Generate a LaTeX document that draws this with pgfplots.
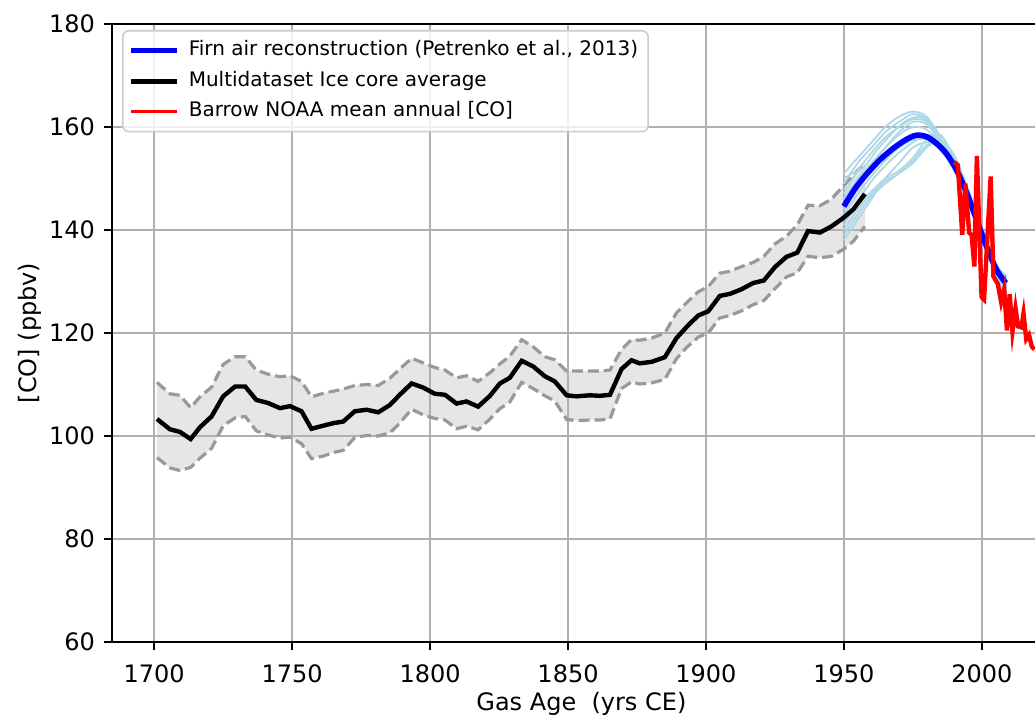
\documentclass[border=0pt]{standalone}
\usepackage{pgfplots}
\pgfplotsset{compat=1.18}
\usepgfplotslibrary{fillbetween}
\usepackage{fontspec}
\setmainfont{DejaVu Sans}
\definecolor{bandfill}{RGB}{230,230,230}
\definecolor{banddash}{RGB}{153,153,153}
\definecolor{gridc}{RGB}{176,176,176}
\definecolor{lblue}{RGB}{173,216,230}
\definecolor{legedge}{RGB}{204,204,204}

\pgfplotstableread{
x y
1701 103.3
1705.7 101.3
1709.3 100.8
1713.2 99.4
1716.6 101.7
1720.8 103.8
1725 107.7
1729.3 109.6
1733 109.6
1737 107.0
1741.3 106.4
1745.6 105.4
1749.2 105.8
1753.4 104.8
1757 101.4
1761.3 102.0
1765 102.5
1768.5 102.8
1772.7 104.8
1777 105.1
1781.2 104.6
1785.4 106.0
1789 108.0
1793.3 110.2
1797.5 109.4
1801.7 108.2
1805.4 108.0
1809.6 106.3
1813.2 106.7
1817.4 105.7
1821.7 107.8
1825.3 110.2
1828.9 111.3
1833.2 114.6
1837.4 113.5
1841.6 111.6
1845.2 110.6
1849.5 107.9
1853.1 107.7
1857.9 107.9
1861.5 107.8
1865.2 108.0
1869.4 113.0
1873 114.7
1876 114.1
1880.3 114.4
1885.1 115.3
1889.3 119.0
1893.2 121.3
1897.2 123.4
1900.8 124.2
1905 127.2
1908.7 127.6
1912.9 128.5
1917.1 129.7
1921 130.2
1925 132.8
1929.2 134.8
1933.1 135.6
1937 139.8
1941.3 139.5
1945.5 140.7
1949.7 142.3
1953.4 144.0
1957.6 147.0
}\meanT

\pgfplotstableread{
x y
1701 110.4
1705.7 108.2
1709.3 107.9
1713.2 105.5
1716.6 107.6
1720.8 109.5
1725 113.9
1729.3 115.4
1733 115.4
1737 112.8
1741.3 112.0
1745.6 111.5
1749.2 111.7
1753.4 110.6
1757 107.6
1761.3 108.3
1765 108.7
1768.5 109.1
1772.7 109.8
1777 110.0
1781.2 109.8
1785.4 111.2
1789 113.0
1793.3 115.1
1797.5 114.2
1801.7 113.3
1805.4 112.8
1809.6 111.3
1813.2 111.7
1817.4 110.6
1821.7 112.3
1825.3 114.0
1828.9 115.5
1833.2 118.7
1837.4 117.3
1841.6 115.4
1845.2 114.8
1849.5 112.6
1853.1 112.6
1857.9 112.6
1861.5 112.6
1865.2 112.8
1869.4 116.8
1873 118.7
1876 118.6
1880.3 119.0
1885.1 120.0
1889.3 123.9
1893.2 126.0
1897.2 128.0
1900.8 129.0
1905 131.6
1908.7 132.0
1912.9 132.9
1917.1 133.7
1921 134.9
1925 137.3
1929.2 138.8
1933.1 141.0
1937 144.8
1941.3 144.7
1945.5 146.0
1949.7 148.5
1953.4 150.7
1957.6 153.0
}\upperT

\pgfplotstableread{
x y
1701 95.8
1705.7 93.8
1709.3 93.3
1713.2 93.9
1716.6 95.7
1720.8 97.6
1725 102.0
1729.3 103.5
1733 103.8
1737 101.0
1741.3 100.2
1745.6 99.6
1749.2 99.8
1753.4 98.5
1757 95.6
1761.3 96.1
1765 96.8
1768.5 97.2
1772.7 99.7
1777 100.1
1781.2 100.0
1785.4 100.6
1789 102.5
1793.3 105.2
1797.5 104.1
1801.7 103.4
1805.4 103.1
1809.6 101.4
1813.2 101.9
1817.4 101.2
1821.7 103.3
1825.3 105.3
1828.9 106.6
1833.2 110.4
1837.4 109.2
1841.6 107.8
1845.2 106.8
1849.5 103.2
1853.1 103.0
1857.9 103.1
1861.5 103.1
1865.2 103.3
1869.4 109.2
1873 110.5
1876 110.1
1880.3 110.3
1885.1 111.0
1889.3 115.0
1893.2 117.3
1897.2 119.2
1900.8 120.0
1905 122.9
1908.7 123.4
1912.9 124.3
1917.1 125.5
1921 126.3
1925 128.6
1929.2 130.9
1933.1 131.7
1937 134.9
1941.3 134.6
1945.5 134.9
1949.7 136.2
1953.4 137.8
1957.6 140.7
}\lowerT

\pgfplotstableread{
x y
1950 144.6
1954 148.0
1958 150.7
1963 153.6
1968 155.9
1972.7 157.6
1976.3 158.4
1980 158.1
1983.6 156.8
1987.2 154.8
1990.8 151.7
1994.5 147.2
1998.1 142.0
2001.7 136.8
2005.3 132.3
2008.7 129.7
}\firnT

\pgfplotstableread{
x y
1989.9 153.2
1991.3 152.6
1992.9 139.1
1994.0 149.0
1995.4 139.5
1996.3 139.0
1997.3 132.9
1998.2 154.4
1999.9 127.0
2000.8 126.5
2003.2 150.4
2004.2 131.0
2005.8 129.5
2007.0 126.0
2008.1 128.5
2009.1 120.5
2010.1 127.5
2011.1 120.3
2012.2 124.8
2013.1 121.3
2014.3 121.1
2015.1 123.8
2016.1 118.8
2017.1 119.6
2018.1 117.4
2019.0 116.8
}\noaaT

\begin{document}
\begin{tikzpicture}
\begin{axis}[
  set layers,
  scale only axis, width=469.4pt, height=309pt,
  xmin=1684.7, xmax=2025, ymin=60, ymax=180,
  xtick={1700,1750,...,2000}, ytick={60,80,...,180},
  /pgf/number format/assume math mode=true,
  /pgf/number format/1000 sep={},
  tick label style={font=\fontsize{12}{14}\selectfont},
  label style={font=\fontsize{12}{14}\selectfont},
  tick align=outside, tick pos=left,
  major tick length=3.8pt,
  every tick/.style={black, line width=0.8pt},
  axis line style={line width=0.8pt},
  grid=major, major grid style={gridc, line width=1pt},
  xticklabel style={anchor=north, inner sep=0pt, yshift=-7.5pt},
  yticklabel style={anchor=east, inner sep=0pt, xshift=-4.5pt},
  xlabel={Gas Age\ \ (yrs CE)}, ylabel={[CO] (ppbv)},
  xlabel style={at={(axis description cs:0.5,0)}, anchor=base, yshift=-34.5pt},
  ylabel style={at={(axis description cs:-0.088,0.5)}, anchor=center},
  legend image code/.code={\draw[#1, line cap=butt] (0pt,0pt) -- (23pt,0pt);},
  legend style={at={(axis description cs:0,1)}, anchor=north west, xshift=5pt, yshift=-3pt,
    draw=legedge, line width=0.8pt, rounded corners=3pt, fill=white, fill opacity=0.8, text opacity=1,
    font=\fontsize{10}{12}\selectfont, inner xsep=3pt, inner ysep=3pt, row sep=1.2pt,
    nodes={inner sep=2pt, text height=7.5pt, text depth=2.5pt},
    /tikz/column 1/.style={column sep=2.5pt}},
  legend cell align=left,
]
\addplot[name path=upper, banddash, line width=1.6pt, dash pattern=on 5.5pt off 2.5pt, forget plot] table {\upperT};
\addplot[name path=lower, banddash, line width=1.6pt, dash pattern=on 5.5pt off 2.5pt, forget plot] table {\lowerT};
\addplot[bandfill, forget plot] fill between[of=upper and lower, on layer=axis background];

\addplot[lblue, line width=0.9pt, smooth, forget plot] coordinates {(1950,151) (1955,154) (1960,157) (1965,160) (1970,162) (1975,163) (1980,162) (1985,158) (1990,153) (1995,147) (2000,140) (2005,133) (2009,130)};
\addplot[lblue, line width=0.9pt, smooth, forget plot] coordinates {(1950,149) (1955,153) (1960,156) (1965,159) (1970,161) (1975,162.5) (1980,161.5) (1985,157.5) (1990,152.5) (1995,146.5) (2000,139.5) (2005,132.5) (2009,129)};
\addplot[lblue, line width=0.9pt, smooth, forget plot] coordinates {(1950,138) (1955,142) (1960,146) (1965,150) (1970,153) (1975,156) (1980,157) (1985,156) (1990,152) (1995,146) (2000,139) (2005,132) (2009,128)};
\addplot[lblue, line width=0.9pt, smooth, forget plot] coordinates {(1950,140) (1955,144) (1960,147) (1965,149.5) (1970,151) (1975,153.5) (1980,156.5) (1985,157) (1990,153.5) (1995,147) (2000,139.5) (2005,132.5) (2009,129.5)};
\addplot[lblue, line width=0.9pt, smooth, forget plot] coordinates {(1950,142) (1955,145) (1960,147.5) (1965,150) (1970,151.5) (1975,154) (1980,157.5) (1985,158.5) (1990,154) (1995,147.5) (2000,140) (2005,133) (2009,130)};
\addplot[lblue, line width=0.9pt, smooth, forget plot] coordinates {(1950,146) (1955,150) (1960,153) (1965,156) (1970,158.5) (1975,160) (1980,159.5) (1985,156.5) (1990,152) (1995,146) (2000,139) (2005,132.5) (2009,129)};
\addplot[lblue, line width=0.9pt, smooth, forget plot] coordinates {(1950,144) (1955,148.5) (1960,152.5) (1965,156) (1970,159) (1975,161) (1980,160.5) (1985,157) (1990,152.5) (1995,146.5) (2000,139.5) (2005,133) (2009,130.5)};
\addplot[lblue, line width=0.9pt, smooth, forget plot] coordinates {(1950,139) (1955,143) (1960,146.5) (1965,149) (1970,151) (1975,153) (1980,156) (1985,157.5) (1990,154.5) (1995,148) (2000,140.5) (2005,133.5) (2009,131)};
\addplot[lblue, line width=0.9pt, smooth, forget plot] coordinates {(1950,147) (1955,151.5) (1960,155) (1965,158) (1970,160) (1975,161.5) (1980,161) (1985,157.5) (1990,152.5) (1995,146) (2000,138.5) (2005,131.5) (2009,127.5)};
\addplot[lblue, line width=0.9pt, smooth, forget plot] coordinates {(1950,143) (1955,147) (1960,150.5) (1965,153.5) (1970,156) (1975,157.5) (1980,157.5) (1985,155.5) (1990,151.5) (1995,145.5) (2000,138.5) (2005,132) (2009,128.5)};
\addplot[lblue, line width=0.9pt, smooth, forget plot] coordinates {(1950,150) (1953,151) (1957,152) (1962,155.5) (1967,158.5) (1972,161) (1977,162) (1982,160.5) (1986,157) (1990,152) (1995,146) (2000,139) (2005,132) (2009,128)};
\addplot[lblue, line width=0.9pt, smooth, forget plot] coordinates {(1950,141) (1955,145.5) (1960,149.5) (1965,152.5) (1970,155) (1975,157) (1980,158.5) (1985,157.5) (1990,153) (1995,146.5) (2000,139) (2005,131.5) (2009,126.5)};

\addplot[black, line width=2.2pt, forget plot] table {\meanT};
\addplot[blue, line width=2.8pt, smooth, forget plot] table {\firnT};
\addplot[red, line width=2.2pt, forget plot] table {\noaaT};

\addlegendimage{blue, line width=2.5pt}
\addlegendentry{Firn air reconstruction (Petrenko et al., 2013)}
\addlegendimage{black, line width=2.5pt}
\addlegendentry{Multidataset Ice core average}
\addlegendimage{red, line width=1.6pt}
\addlegendentry{Barrow NOAA mean annual [CO]}
\end{axis}
\pgfresetboundingbox
\path[use as bounding box] ([shift={(-56pt,-37pt)}]current axis.south west) rectangle ([shift={(461.5pt,321pt)}]current axis.south west);
\end{tikzpicture}
\end{document}
